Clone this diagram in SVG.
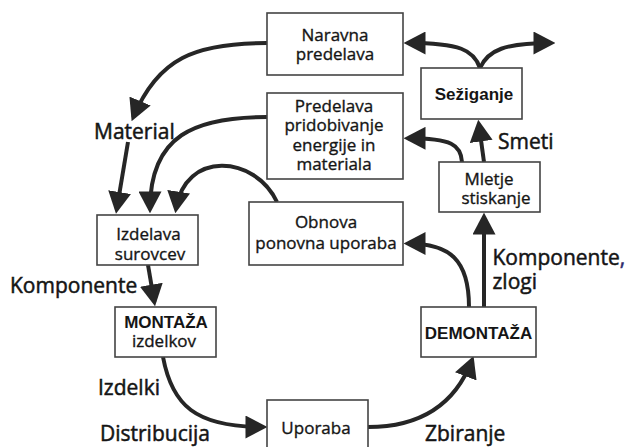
<svg xmlns="http://www.w3.org/2000/svg" width="631" height="447" viewBox="0 0 631 447">
<style>
.box{fill:#fff;stroke:#444;stroke-width:1.6}
.t{font-family:"Open Sans","DejaVu Sans",sans-serif;font-size:17px;fill:#151515;stroke:#151515;stroke-width:0.35;text-anchor:middle}
.b{font-family:"Liberation Sans",Arial,sans-serif;font-size:17px;font-weight:bold;fill:#151515;text-anchor:middle}
.lab{font-family:"Open Sans","DejaVu Sans",sans-serif;font-size:21px;fill:#151515;stroke:#151515;stroke-width:0.5}
.c{fill:none;stroke:#262626;stroke-width:4;marker-end:url(#ah)}
</style>
<defs>
<marker id="ah" markerUnits="userSpaceOnUse" markerWidth="22" markerHeight="23" viewBox="0 0 20 21" refX="16" refY="10.5" orient="auto">
<path d="M0,0 L20,10.5 L0,21 z" fill="#262626"/>
</marker>
</defs>
<g id="connectors">
<path class="c" d="M267,43 C 195,43 158,58 133.3,117.2"/>
<path class="c" d="M128,142 L116.7,209.5"/>
<path class="c" d="M267,117 C 195,117 150,135 150,209"/>
<path class="c" d="M277,202 C 255,155 185,150 176,209"/>
<path class="c" d="M148,265 L154.3,302"/>
<path class="c" d="M163,357 C 172,405 195,427 263,427"/>
<path class="c" d="M368,427 C 420,427 455,405 472,360"/>
<path class="c" d="M469,307 C 469,260 450,243.5 408,243.5"/>
<path class="c" d="M484,307 L484,217"/>
<path class="c" d="M484,162 L478.8,124"/>
<path class="c" d="M462,162 C 461,145 452,138.3 408,138.3"/>
<path class="c" d="M480,68 C 474,50 460,43 408,43"/>
<path class="c" d="M480,68 C 488,50 505,43 551,43"/>
</g>
<g id="naravna">
<rect class="box" x="267" y="13" width="136" height="62"/>
<text class="t" x="335" y="41">Naravna</text>
<text class="t" x="335" y="60">predelava</text>
</g>
<g id="predelava">
<rect class="box" x="267" y="93" width="136" height="86"/>
<text class="t" x="334" y="112">Predelava</text>
<text class="t" x="334" y="131">pridobivanje</text>
<text class="t" x="334" y="150.5">energije in</text>
<text class="t" x="334" y="169.5">materiala</text>
</g>
<g id="obnova">
<rect class="box" x="249" y="202" width="154" height="63"/>
<text class="t" x="326" y="228">Obnova</text>
<text class="t" x="326" y="248.5">ponovna uporaba</text>
</g>
<g id="seziganje">
<rect class="box" x="421" y="68" width="101" height="51"/>
<text class="b" x="474" y="99.5">Sežiganje</text>
</g>
<g id="mletje">
<rect class="box" x="439" y="162" width="101" height="50"/>
<text class="t" x="489" y="185">Mletje</text>
<text class="t" x="496" y="203.5">stiskanje</text>
</g>
<g id="izdelava">
<rect class="box" x="97" y="215" width="101" height="50"/>
<text class="t" x="148.5" y="240">Izdelava</text>
<text class="t" x="150" y="260">surovcev</text>
</g>
<g id="montaza">
<rect class="box" x="115" y="307" width="101" height="50"/>
<text class="b" x="166" y="327.5">MONTAŽA</text>
<text class="t" x="164" y="347">izdelkov</text>
</g>
<g id="uporaba">
<rect class="box" x="267" y="400" width="101" height="60"/>
<text class="t" x="316" y="433.5">Uporaba</text>
</g>
<g id="demontaza">
<rect class="box" x="421" y="307" width="115" height="50"/>
<text class="b" x="478.5" y="338.5">DEMONTAŽA</text>
</g>
<g id="labels">
<text class="lab" x="94" y="139">Material</text>
<text class="lab" x="498" y="149">Smeti</text>
<text class="lab" x="492.5" y="265">Komponente<tspan fill="#2e2a6b" stroke="#2e2a6b">,</tspan></text>
<text class="lab" x="492.5" y="288.5">zlogi</text>
<text class="lab" x="10" y="293">Komponente</text>
<text class="lab" x="98" y="395">Izdelki</text>
<text class="lab" x="100" y="441">Distribucija</text>
<text class="lab" x="425" y="441">Zbiranje</text>
</g>
</svg>
